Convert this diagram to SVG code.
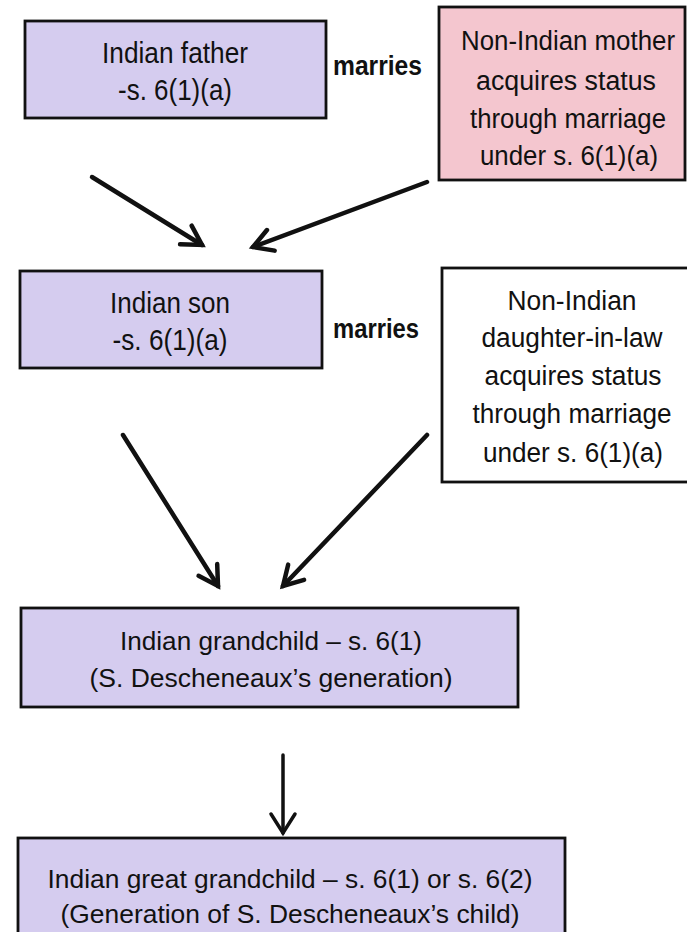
<svg xmlns="http://www.w3.org/2000/svg" width="687" height="932" viewBox="0 0 687 932">
<style>
.box{stroke:#111;stroke-width:2.8}
.lav{fill:#d5ccef}
.pink{fill:#f4c6cf}
.white{fill:#fff}
text{font-family:"Liberation Sans",Arial,sans-serif;font-size:30px;fill:#111;text-anchor:middle}
.sm{font-size:26px}
.rt{font-size:27px}
.mar{font-weight:bold;font-size:28px;text-anchor:start}
.conn line{stroke:#111;stroke-width:4.5;stroke-linecap:round}
.conn line.v{stroke-width:3.5}
</style>
<defs>
<marker id="ah" markerUnits="userSpaceOnUse" markerWidth="30" markerHeight="30" viewBox="0 0 30 30" refX="22" refY="15" orient="auto">
<path d="M3,4 L22,15 L3,26" fill="none" stroke="#111" stroke-width="4.5" stroke-linejoin="miter" stroke-linecap="round"/>
</marker>
<marker id="ahv" markerUnits="userSpaceOnUse" markerWidth="30" markerHeight="30" viewBox="0 0 30 30" refX="22" refY="15" orient="auto">
<path d="M3,3 L22,15 L3,27" fill="none" stroke="#111" stroke-width="3.5" stroke-linejoin="miter" stroke-linecap="round"/>
</marker>
</defs>
<rect width="687" height="932" fill="#fff"/>

<g id="father">
<rect class="box lav" x="25" y="21" width="301" height="97"/>
<text x="175" y="63" textLength="146" lengthAdjust="spacingAndGlyphs">Indian father</text>
<text x="175" y="100" textLength="114" lengthAdjust="spacingAndGlyphs">-s. 6(1)(a)</text>
</g>

<g id="marries1">
<text class="mar" x="333" y="75" textLength="89" lengthAdjust="spacingAndGlyphs">marries</text>
</g>

<g id="mother">
<rect class="box pink" x="439" y="7" width="246" height="173"/>
<text class="rt" x="568" y="50" textLength="214" lengthAdjust="spacingAndGlyphs">Non-Indian mother</text>
<text class="rt" x="566" y="90" textLength="180" lengthAdjust="spacingAndGlyphs">acquires status</text>
<text class="rt" x="568" y="128" textLength="196" lengthAdjust="spacingAndGlyphs">through marriage</text>
<text class="rt" x="569" y="165" textLength="178" lengthAdjust="spacingAndGlyphs">under s. 6(1)(a)</text>
</g>

<g id="son">
<rect class="box lav" x="20" y="271" width="302" height="97"/>
<text x="170" y="313" textLength="120" lengthAdjust="spacingAndGlyphs">Indian son</text>
<text x="170" y="350" textLength="115" lengthAdjust="spacingAndGlyphs">-s. 6(1)(a)</text>
</g>

<g id="marries2">
<text class="mar" x="333" y="338" textLength="86" lengthAdjust="spacingAndGlyphs">marries</text>
</g>

<g id="daughterinlaw">
<rect class="box white" x="442" y="268" width="250" height="214"/>
<text class="rt" x="572" y="310" textLength="129" lengthAdjust="spacingAndGlyphs">Non-Indian</text>
<text class="rt" x="572" y="347" textLength="181" lengthAdjust="spacingAndGlyphs">daughter-in-law</text>
<text class="rt" x="573" y="385" textLength="177" lengthAdjust="spacingAndGlyphs">acquires status</text>
<text class="rt" x="572" y="423" textLength="199" lengthAdjust="spacingAndGlyphs">through marriage</text>
<text class="rt" x="573" y="462" textLength="180" lengthAdjust="spacingAndGlyphs">under s. 6(1)(a)</text>
</g>

<g id="grandchild">
<rect class="box lav" x="21" y="608" width="497" height="99"/>
<text class="sm" x="271" y="650" textLength="302" lengthAdjust="spacingAndGlyphs">Indian grandchild – s. 6(1)</text>
<text class="sm" x="271" y="687" textLength="363" lengthAdjust="spacingAndGlyphs">(S. Descheneaux’s generation)</text>
</g>

<g id="greatgrandchild">
<rect class="box lav" x="18" y="838" width="547" height="110"/>
<text class="sm" x="290" y="888" textLength="485" lengthAdjust="spacingAndGlyphs">Indian great grandchild – s. 6(1) or s. 6(2)</text>
<text class="sm" x="290" y="923" textLength="459" lengthAdjust="spacingAndGlyphs">(Generation of S. Descheneaux’s child)</text>
</g>

<g id="connectors" class="conn">
<line x1="92" y1="177" x2="202" y2="245" marker-end="url(#ah)"/>
<line x1="427" y1="182" x2="253" y2="247" marker-end="url(#ah)"/>
<line x1="123" y1="435" x2="218" y2="586" marker-end="url(#ah)"/>
<line x1="427" y1="435" x2="283" y2="586" marker-end="url(#ah)"/>
<line class="v" x1="283" y1="755" x2="283" y2="833" marker-end="url(#ahv)"/>
</g>
</svg>
